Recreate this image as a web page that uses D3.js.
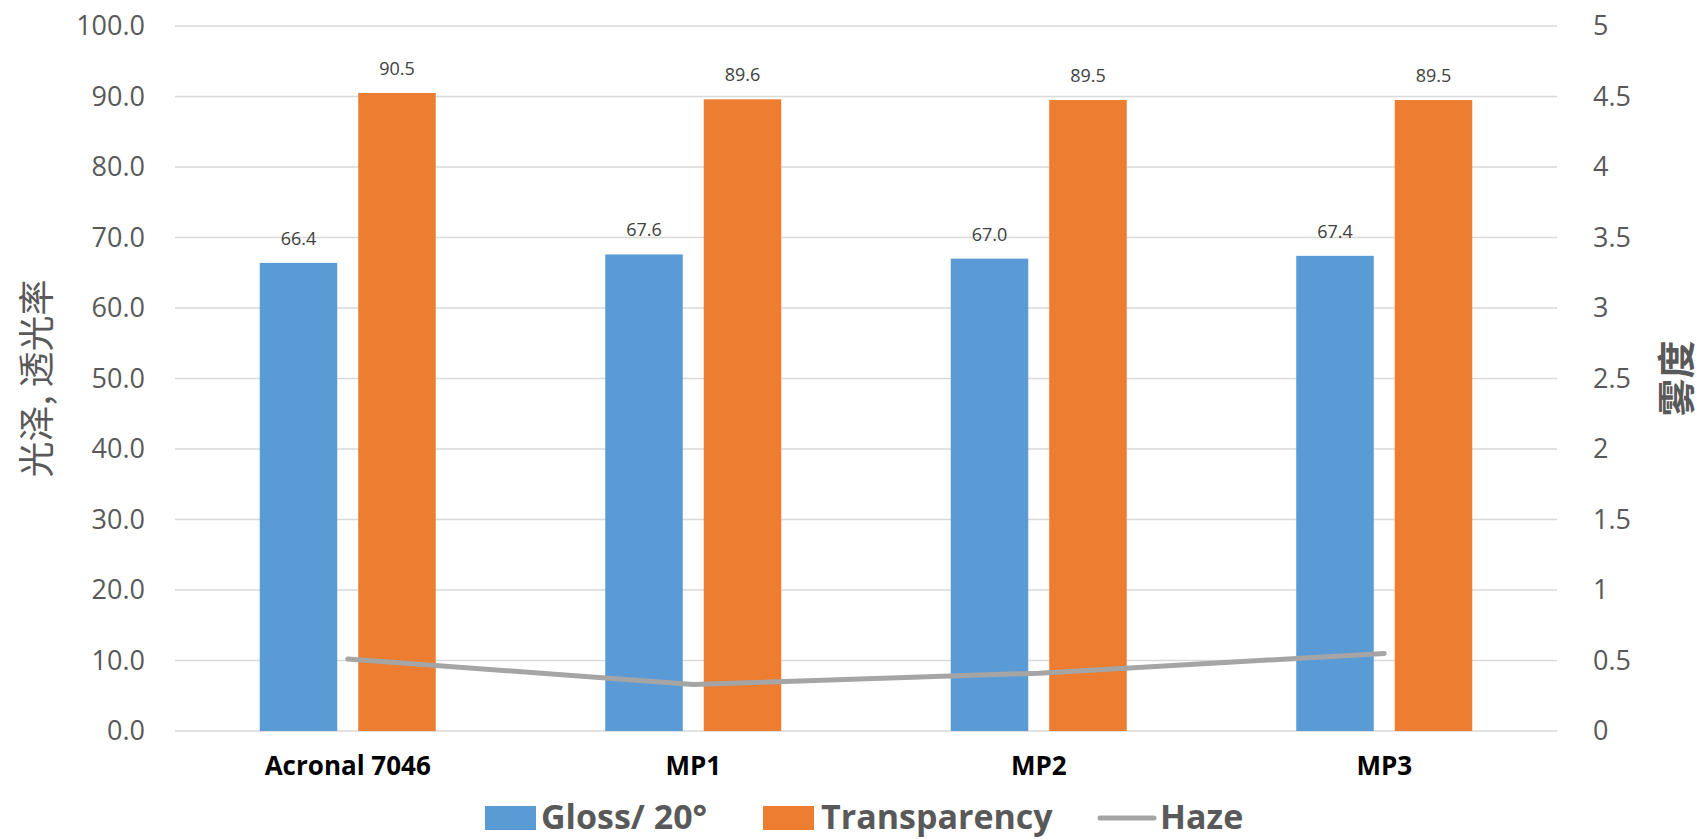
<!DOCTYPE html>
<html>
<head>
<meta charset="utf-8">
<script src="https://cdn.jsdelivr.net/npm/d3@7"></script>
<style>
  html, body { margin: 0; padding: 0; background: #fff; }
  svg { display: block; }
</style>
</head>
<body>
<svg id="chart" width="1701" height="839"></svg>
<script>
// ---- data ----
const categories = ["Acronal 7046", "MP1", "MP2", "MP3"];
const gloss = [66.4, 67.6, 67.0, 67.4];
const transparency = [90.5, 89.6, 89.5, 89.5];
const haze = [0.51, 0.33, 0.41, 0.55];
const seriesNames = ["Gloss/ 20°", "Transparency", "Haze"];
const leftTicks = [0, 10, 20, 30, 40, 50, 60, 70, 80, 90, 100];
const rightTicks = [0, 0.5, 1, 1.5, 2, 2.5, 3, 3.5, 4, 4.5, 5];

// ---- layout ----
const svg = d3.select("#chart");
const plot = { left: 175, right: 1557, top: 26, bottom: 731 };
const colors = { gloss: "#5B9BD5", trans: "#ED7D31", haze: "#A5A5A5" };
const tickFont = "'Open Sans', 'Noto Sans', sans-serif";
const cjkFont = "'Noto Sans CJK SC', sans-serif";

const x0 = d3.scaleBand().domain(categories).range([plot.left, plot.right]).padding(0);
const groupW = x0.bandwidth() * 0.5094;
const x1 = d3.scaleBand().domain(["gloss", "trans"])
  .range([(x0.bandwidth() - groupW) / 2, (x0.bandwidth() + groupW) / 2])
  .paddingInner(0.213).paddingOuter(0);
const yL = d3.scaleLinear().domain([0, 100]).range([plot.bottom, plot.top]);
const yR = d3.scaleLinear().domain([0, 5]).range([plot.bottom, plot.top]);

// gridlines
svg.append("g").selectAll("line").data(leftTicks).join("line")
  .attr("x1", plot.left).attr("x2", plot.right)
  .attr("y1", d => yL(d)).attr("y2", d => yL(d))
  .attr("stroke", "#D9D9D9").attr("stroke-width", 1.5);

// left axis
const axL = svg.append("g").attr("transform", `translate(${plot.left},0)`)
  .call(d3.axisLeft(yL).tickValues(leftTicks).tickFormat(d3.format(".1f")).tickSize(0).tickPadding(30));
axL.select(".domain").remove();
axL.selectAll("text").attr("font-family", tickFont).attr("font-size", 27).attr("fill", "#595959");

// right axis
const axR = svg.append("g").attr("transform", `translate(${plot.right},0)`)
  .call(d3.axisRight(yR).tickValues(rightTicks).tickFormat(d => String(+d.toFixed(1))).tickSize(0).tickPadding(36));
axR.select(".domain").remove();
axR.selectAll("text").attr("font-family", tickFont).attr("font-size", 27).attr("fill", "#595959");

// bars
const rows = categories.map((c, i) => ({ c, gloss: gloss[i], trans: transparency[i] }));
const groups = svg.append("g").selectAll("g").data(rows).join("g")
  .attr("transform", d => `translate(${x0(d.c)},0)`);
["gloss", "trans"].forEach(k => {
  groups.append("rect")
    .attr("x", x1(k)).attr("width", x1.bandwidth())
    .attr("y", d => yL(d[k])).attr("height", d => yL(0) - yL(d[k]))
    .attr("fill", colors[k]);
  groups.append("text")
    .attr("x", x1(k) + x1.bandwidth() / 2)
    .attr("y", d => yL(d[k]) - 18)
    .attr("text-anchor", "middle")
    .attr("font-family", tickFont).attr("font-size", 18).attr("fill", "#404040")
    .text(d => d[k].toFixed(1));
});

// haze line
const line = d3.line().x((d, i) => x0(categories[i]) + x0.bandwidth() / 2).y(d => yR(d));
svg.append("path").datum(haze).attr("d", line)
  .attr("fill", "none").attr("stroke", colors.haze).attr("stroke-width", 5)
  .attr("stroke-linecap", "round").attr("stroke-linejoin", "round");

// category labels
svg.append("g").selectAll("text").data(categories).join("text")
  .attr("x", d => x0(d) + x0.bandwidth() / 2).attr("y", 775)
  .attr("text-anchor", "middle")
  .attr("font-family", tickFont).attr("font-weight", "bold").attr("font-size", 26).attr("fill", "#000")
  .text(d => d);

// axis titles
svg.append("text")
  .attr("transform", `translate(50,${(plot.top + plot.bottom) / 2}) rotate(-90)`)
  .attr("text-anchor", "middle")
  .attr("font-family", cjkFont).attr("font-size", 36).attr("fill", "#595959")
  .text("光泽, 透光率");
svg.append("text")
  .attr("transform", `translate(1690,${(plot.top + plot.bottom) / 2}) rotate(-90)`)
  .attr("text-anchor", "middle")
  .attr("font-family", cjkFont).attr("font-weight", "bold").attr("font-size", 38).attr("fill", "#595959")
  .text("雾度");

// legend
const legY = 818;
const leg = svg.append("g");
const legendItems = [
  { name: seriesNames[0], type: "rect", color: colors.gloss, sx: 485, tx: 541 },
  { name: seriesNames[1], type: "rect", color: colors.trans, sx: 763, tx: 821 },
  { name: seriesNames[2], type: "line", color: colors.haze, sx: 1100, tx: 1160 }
];
legendItems.forEach(it => {
  if (it.type === "rect") {
    leg.append("rect").attr("x", it.sx).attr("y", legY - 12).attr("width", 51).attr("height", 24).attr("fill", it.color);
  } else {
    leg.append("line").attr("x1", it.sx).attr("x2", it.sx + 54).attr("y1", legY).attr("y2", legY)
      .attr("stroke", it.color).attr("stroke-width", 5).attr("stroke-linecap", "round");
  }
  leg.append("text").attr("x", it.tx).attr("y", legY + 11)
    .attr("font-family", tickFont).attr("font-weight", "bold").attr("font-size", 34).attr("fill", "#595959")
    .text(it.name);
});
</script>
</body>
</html>
